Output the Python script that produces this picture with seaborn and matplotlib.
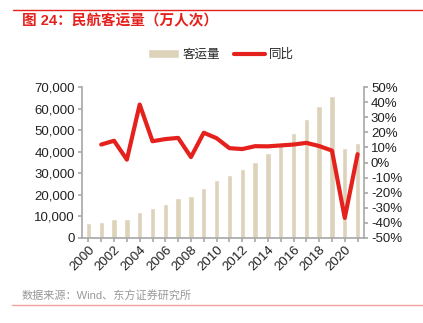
import matplotlib
matplotlib.use("Agg")
import matplotlib.pyplot as plt
import seaborn as sns
import pandas as pd
import numpy as np
from matplotlib.ticker import FuncFormatter, MultipleLocator

years = list(range(2000, 2022))
passengers = [6722, 7524, 8594, 8759, 12123, 13827, 15968, 18576, 19251, 23052,
              26769, 29317, 31936, 35397, 39195, 43618, 48796, 55156, 61174, 65993,
              41778, 44056]
yoy = [np.nan, 11.9, 14.4, 1.9, 38.4, 14.1, 15.5, 16.3, 3.6, 19.7,
       16.1, 9.5, 8.9, 10.8, 10.7, 11.3, 11.9, 13.0, 10.9, 7.9,
       -36.7, 5.5]
title = "图 24：民航客运量（万人次）"
source = "数据来源：Wind、东方证券研究所"
bar_label = "客运量"
line_label = "同比"

sns.set_theme(style="white")
plt.rcParams['font.family'] = ['Liberation Sans', 'Noto Sans CJK SC']

df = pd.DataFrame({"year": [str(y) for y in years], "pos": range(len(years)),
                   "passengers": passengers, "yoy": yoy})

fig = plt.figure(figsize=(4.23, 3.23), dpi=100)
ax = fig.add_axes([82/423, 1-238/323, (364-82)/423, (238-87)/323])
bar_color = "#DDD3BA"
red = "#E5211D"
sns.barplot(data=df, x="year", y="passengers", color=bar_color, width=0.42,
            ax=ax, saturation=1, label=bar_label)
ax.set_ylim(0, 70000)
ax.yaxis.set_major_locator(MultipleLocator(10000))
ax.yaxis.set_major_formatter(FuncFormatter(lambda v, p: f"{int(v):,}"))
ax.set_xlim(-0.5, len(years)-0.5)
ax.set_xlabel("")
ax.set_ylabel("")
ax.set_xticks(range(len(years)))
ax.set_xticklabels([y if int(y) % 2 == 0 else "" for y in df["year"]],
                   rotation=45, ha="right", rotation_mode="anchor")

ax2 = ax.twinx()
sns.lineplot(data=df, x="pos", y="yoy", color=red, linewidth=3, ax=ax2,
             label=line_label)
ax2.set_ylim(-50, 50)
ax2.yaxis.set_major_locator(MultipleLocator(10))
ax2.yaxis.set_major_formatter(FuncFormatter(lambda v, p: f"{int(round(v))}%"))
ax2.set_ylabel("")
ax2.set_xlabel("")
ax2.set_xlim(-0.5, len(years)-0.5)

for a in (ax, ax2):
    for s in a.spines.values():
        s.set_visible(False)
spine_c = "#AAAAAA"
ax.spines['left'].set_visible(True)
ax.spines['left'].set_color(spine_c)
ax.spines['bottom'].set_visible(True)
ax.spines['bottom'].set_color(spine_c)
ax2.spines['right'].set_visible(True)
ax2.spines['right'].set_color(spine_c)
ax.tick_params(axis='y', left=True, length=3, color=spine_c, labelsize=9.5, pad=2, labelcolor="#222222")
ax.tick_params(axis='x', bottom=True, length=3, color=spine_c, labelsize=9.5, pad=1, labelcolor="#222222")
ax2.tick_params(axis='y', right=True, length=3, color=spine_c, labelsize=9.5, pad=2, labelcolor="#222222")

if ax2.get_legend():
    ax2.get_legend().remove()
if ax.get_legend():
    ax.get_legend().remove()
h1, l1 = ax.get_legend_handles_labels()
h2, l2 = ax2.get_legend_handles_labels()
fig.legend(h1 + h2, l1 + l2, loc="center", bbox_to_anchor=(221/423, 1-55/323),
           ncol=2, frameon=False, fontsize=9, handlelength=2.5,
           columnspacing=1.1, handletextpad=0.3)

fig.add_artist(plt.Line2D([13/423, 1], [1-10/323, 1-10/323], color=red, lw=1))
fig.text(22/423, 1-21/323, title, color=red, fontsize=10.5, fontweight="bold",
         va="center", ha="left")
fig.text(22/423, 1-296/323, source, color="#999999", fontsize=8, va="center", ha="left")
fig.add_artist(plt.Line2D([12/423, 1], [1-305/323, 1-305/323], color="#F4A09C", lw=1))

fig.savefig("out.png", dpi=100)
